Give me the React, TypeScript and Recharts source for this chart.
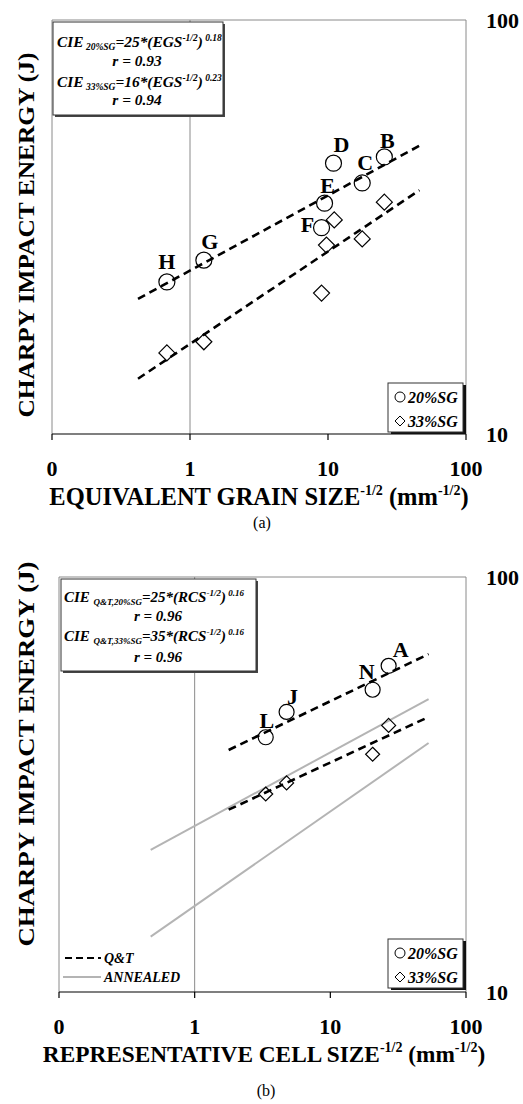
import React from 'react';
import { ScatterChart, Scatter, XAxis, YAxis, ReferenceLine } from 'recharts';

const FONT = 'Liberation Serif, Times New Roman, serif';

// ---------- Chart (a): equivalent grain size ----------
const egsLabels = ['H', 'G', 'F', 'E', 'D', 'C', 'B'];
const egsX20 = [0.68, 1.26, 8.98, 9.44, 10.96, 17.7, 25.6];
const egsCie20 = [23.3, 26.3, 31.5, 36.1, 45.1, 40.4, 46.7];
const egsX33 = [0.68, 1.26, 8.98, 9.75, 11.1, 17.7, 25.6];
const egsCie33 = [15.7, 16.7, 21.9, 28.6, 32.9, 29.6, 36.3];
const fitA20X = [0.42, 46];
const fitA20Y = [21.2, 49.7];
const fitA33X = [0.42, 46];
const fitA33Y = [13.6, 38.8];

// ---------- Chart (b): representative cell size ----------
const rcsLabels = ['L', 'J', 'N', 'A'];
const rcsX = [3.34, 4.76, 20.5, 26.9];
const rcsCie20 = [41.1, 47.3, 53.5, 61.1];
const rcsCie33 = [30.0, 31.9, 37.4, 43.9];
const fitQT20X = [1.78, 53];
const fitQT20Y = [38.3, 65.2];
const fitQT33X = [1.78, 53];
const fitQT33Y = [27.5, 46.0];
const fitAnnUpX = [0.474, 53];
const fitAnnUpY = [22.0, 50.8];
const fitAnnLoX = [0.474, 53];
const fitAnnLoY = [13.6, 39.8];

const xTicks = [0.1, 1, 10, 100];
const xTickLabels = ['0', '1', '10', '100'];
const yTicks = [10, 100];
const yTickLabels = ['10', '100'];

const zip = (xs: number[], ys: number[], labels?: string[]) =>
  xs.map((x, i) => ({ x, y: ys[i], label: labels ? labels[i] : undefined }));

const labelOffsets: Record<string, [number, number]> = {
  H: [0, -21], G: [6, -19], F: [-14, -4], E: [3, -18], D: [8, -19], C: [3, -21], B: [3, -17],
  L: [1, -17], J: [6, -16], N: [-6, -19], A: [12, -17],
};

const circleShape = (r: number) => (p: any) => {
  const lab = p.payload && p.payload.label;
  const off = lab ? labelOffsets[lab] : undefined;
  return (
    <g>
      <circle cx={p.cx} cy={p.cy} r={r} fill="none" stroke="#000" strokeWidth={1.2} />
      {off && (
        <text x={p.cx + off[0]} y={p.cy + off[1] + 8} textAnchor="middle" fontFamily={FONT}
          fontWeight="bold" fontSize={22} fill="#000">{lab}</text>
      )}
    </g>
  );
};

const diamondShape = (h: number) => (p: any) => (
  <path d={`M${p.cx},${p.cy - h}L${p.cx + h},${p.cy}L${p.cx},${p.cy + h}L${p.cx - h},${p.cy}Z`}
    fill="none" stroke="#000" strokeWidth={1.2} />
);

const noShape = () => <g />;

const XTick = (p: any) => {
  const i = xTicks.findIndex((t) => Math.abs(t - p.payload.value) < 1e-6);
  return (
    <text x={p.x} y={p.y + 15} textAnchor="middle" fontFamily={FONT} fontWeight="bold" fontSize={22} fill="#000">
      {i >= 0 ? xTickLabels[i] : ''}
    </text>
  );
};
const YTick = (p: any) => {
  const i = yTicks.findIndex((t) => Math.abs(t - p.payload.value) < 1e-6);
  return (
    <text x={p.x} y={p.y + 8} textAnchor="start" fontFamily={FONT} fontWeight="bold" fontSize={22} fill="#000">
      {i >= 0 ? yTickLabels[i] : ''}
    </text>
  );
};

const dashed = { stroke: '#000', strokeWidth: 2.6, strokeDasharray: '8 5' };
const grayLine = { stroke: '#b4b4b4', strokeWidth: 2 };

const B = { fontFamily: FONT, fontWeight: 'bold', fontStyle: 'italic', fill: '#000' } as any;

function Sub({ children, fs }: any) {
  return <tspan fontSize={fs} dy={3}>{children}</tspan>;
}

export default function App() {
  const a20 = zip(egsX20, egsCie20, egsLabels);
  const a33 = zip(egsX33, egsCie33);
  const b20 = zip(rcsX, rcsCie20, rcsLabels);
  const b33 = zip(rcsX, rcsCie33);

  const common = (mTop: number, mLeft: number, h: number, mBottom: number) => ({
    width: 523, height: h, margin: { top: mTop, right: 7, bottom: mBottom, left: mLeft },
  });

  const axes = [
    <XAxis key="x" type="number" dataKey="x" scale="log" domain={[0.1, 100]} ticks={xTicks}
      allowDataOverflow tick={<XTick />} tickSize={6} tickMargin={21}
      axisLine={{ stroke: '#000', strokeWidth: 1.2 }} tickLine={{ stroke: '#000', strokeWidth: 1.2 }}
      height={40} interval={0} />,
    <YAxis key="y" type="number" dataKey="y" orientation="right" scale="log" domain={[10, 100]}
      ticks={yTicks} allowDataOverflow tick={<YTick />} tickSize={0} tickMargin={20}
      axisLine={false} tickLine={false} width={50} interval={0} />,
    <ReferenceLine key="r1" x={1} stroke="#8a8a8a" strokeWidth={1} />,
    <ReferenceLine key="r2" x={0.1} stroke="#8a8a8a" strokeWidth={1} />,
    <ReferenceLine key="r3" x={100} stroke="#8a8a8a" strokeWidth={1} />,
    <ReferenceLine key="r4" y={100} stroke="#8a8a8a" strokeWidth={1} />,
  ];

  return (
    <div style={{ position: 'absolute', left: 0, top: 0, width: 523, height: 1104, background: '#fff' }}>
      <div style={{ position: 'absolute', left: 0, top: 0 }}>
        <ScatterChart {...common(20, 52, 540, 66)}>
          {axes}
          <Scatter data={zip(fitA20X, fitA20Y)} line={dashed} shape={noShape} isAnimationActive={false} />
          <Scatter data={zip(fitA33X, fitA33Y)} line={dashed} shape={noShape} isAnimationActive={false} />
          <Scatter data={a20} shape={circleShape(8)} isAnimationActive={false} />
          <Scatter data={a33} shape={diamondShape(8)} isAnimationActive={false} />
        </ScatterChart>
      </div>
      <div style={{ position: 'absolute', left: 0, top: 540 }}>
        <ScatterChart {...common(37, 59, 564, 72)}>
          {axes}
          <Scatter data={zip(fitAnnUpX, fitAnnUpY)} line={grayLine} shape={noShape} isAnimationActive={false} />
          <Scatter data={zip(fitAnnLoX, fitAnnLoY)} line={grayLine} shape={noShape} isAnimationActive={false} />
          <Scatter data={zip(fitQT20X, fitQT20Y)} line={dashed} shape={noShape} isAnimationActive={false} />
          <Scatter data={zip(fitQT33X, fitQT33Y)} line={dashed} shape={noShape} isAnimationActive={false} />
          <Scatter data={b20} shape={circleShape(7.5)} isAnimationActive={false} />
          <Scatter data={b33} shape={diamondShape(7)} isAnimationActive={false} />
        </ScatterChart>
      </div>
      <svg width={523} height={1104} style={{ position: 'absolute', left: 0, top: 0, pointerEvents: 'none' }}>
        {/* ----- Chart (a) texts ----- */}
        <text transform="rotate(-90)" x={-235} y={34} textAnchor="middle" fontFamily={FONT}
          fontWeight="bold" fontSize={23} textLength={365} lengthAdjust="spacingAndGlyphs">CHARPY IMPACT ENERGY (J)</text>
        <text x={259} y={505} textAnchor="middle" fontFamily={FONT} fontWeight="bold" fontSize={24.5}>
          EQUIVALENT GRAIN SIZE<tspan fontSize={14} dy={-10}>-1/2</tspan><tspan dy={10}> (mm</tspan>
          <tspan fontSize={14} dy={-10}>-1/2</tspan><tspan dy={10}>)</tspan>
        </text>
        <text x={262} y={528} textAnchor="middle" fontFamily={FONT} fontSize={16}>(a)</text>

        <rect x={55} y={24} width={170} height={93} fill="#444" />
        <rect x={53} y={22} width={170} height={93} fill="#fff" stroke="#333" strokeWidth={1} />
        <text x={57} y={47} {...B} fontSize={15.4}>CIE<Sub fs={9.5}> 20%SG</Sub><tspan dy={-3}>=25*(EGS</tspan>
          <tspan fontSize={9.5} dy={-6}>-1/2</tspan><tspan dy={6}>)</tspan><tspan fontSize={9.5} dy={-6}> 0.18</tspan></text>
        <text x={137} y={66} {...B} fontSize={15.4} textAnchor="middle">r = 0.93</text>
        <text x={57} y={87} {...B} fontSize={15.4}>CIE<Sub fs={9.5}> 33%SG</Sub><tspan dy={-3}>=16*(EGS</tspan>
          <tspan fontSize={9.5} dy={-6}>-1/2</tspan><tspan dy={6}>)</tspan><tspan fontSize={9.5} dy={-6}> 0.23</tspan></text>
        <text x={137} y={105} {...B} fontSize={15.4} textAnchor="middle">r = 0.94</text>

        <rect x={391} y={385} width={75} height={49} fill="#111" />
        <rect x={388} y={383} width={75} height={49} fill="#fff" stroke="#333" strokeWidth={1} />
        <circle cx={400} cy={397} r={5} fill="none" stroke="#000" strokeWidth={1} />
        <text x={408} y={403} {...B} fontSize={16}>20%SG</text>
        <path d="M400,416L405,421L400,426L395,421Z" fill="none" stroke="#000" strokeWidth={1} />
        <text x={408} y={427} {...B} fontSize={16}>33%SG</text>

        {/* ----- Chart (b) texts ----- */}
        <text transform="rotate(-90)" x={-754} y={34} textAnchor="middle" fontFamily={FONT}
          fontWeight="bold" fontSize={23} textLength={385} lengthAdjust="spacingAndGlyphs">CHARPY IMPACT ENERGY (J)</text>
        <text x={264} y={1062} textAnchor="middle" fontFamily={FONT} fontWeight="bold" fontSize={23.3}>
          REPRESENTATIVE CELL SIZE<tspan fontSize={14} dy={-10}>-1/2</tspan><tspan dy={10}> (mm</tspan>
          <tspan fontSize={14} dy={-10}>-1/2</tspan><tspan dy={10}>)</tspan>
        </text>
        <text x={266} y={1096} textAnchor="middle" fontFamily={FONT} fontSize={16}>(b)</text>

        <rect x={63} y={581} width={195} height={92} fill="#444" />
        <rect x={61} y={579} width={195} height={92} fill="#fff" stroke="#333" strokeWidth={1} />
        <text x={64} y={602} {...B} fontSize={15}>CIE <Sub fs={9}> Q&amp;T,20%SG</Sub><tspan dy={-3}>=25*(RCS</tspan>
          <tspan fontSize={9} dy={-6}>-1/2</tspan><tspan dy={6}>)</tspan><tspan fontSize={9} dy={-6}> 0.16</tspan></text>
        <text x={158} y={621} {...B} fontSize={15} textAnchor="middle">r = 0.96</text>
        <text x={64} y={641} {...B} fontSize={15}>CIE <Sub fs={9}> Q&amp;T,33%SG</Sub><tspan dy={-3}>=35*(RCS</tspan>
          <tspan fontSize={9} dy={-6}>-1/2</tspan><tspan dy={6}>)</tspan><tspan fontSize={9} dy={-6}> 0.16</tspan></text>
        <text x={158} y={662} {...B} fontSize={15} textAnchor="middle">r = 0.96</text>

        <rect x={391} y={941} width={75} height={49} fill="#111" />
        <rect x={388} y={939} width={75} height={49} fill="#fff" stroke="#333" strokeWidth={1} />
        <circle cx={400} cy={953} r={5} fill="none" stroke="#000" strokeWidth={1} />
        <text x={408} y={959} {...B} fontSize={16}>20%SG</text>
        <path d="M400,972L405,977L400,982L395,977Z" fill="none" stroke="#000" strokeWidth={1} />
        <text x={408} y={983} {...B} fontSize={16}>33%SG</text>

        <line x1={65} y1={958} x2={101} y2={958} stroke="#000" strokeWidth={2} strokeDasharray="7 4" />
        <text x={104} y={963} {...B} fontSize={14}>Q&amp;T</text>
        <line x1={63} y1={977} x2={101} y2={977} stroke="#b4b4b4" strokeWidth={2} />
        <text x={104} y={982} {...B} fontSize={14}>ANNEALED</text>
      </svg>
    </div>
  );
}
